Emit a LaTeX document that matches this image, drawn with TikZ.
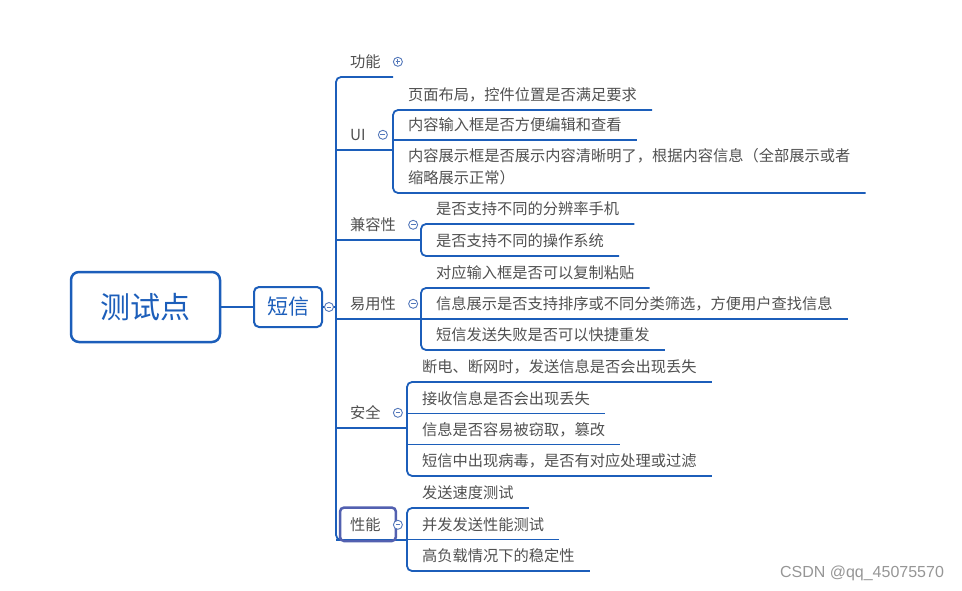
\documentclass[tikz,border=0pt]{standalone}
\usepackage{fontspec}
\usepackage{xcolor}
\usepackage{tikz}
\usetikzlibrary{positioning,calc}
\newfontfamily\cjk{Noto Sans CJK SC}
\newfontfamily\wmfont{Liberation Sans}
\definecolor{mapBlue}{RGB}{28,94,186}
\definecolor{mapText}{RGB}{80,80,80}
\definecolor{togBlue}{RGB}{84,120,186}
\definecolor{selBlue}{RGB}{82,96,176}
\definecolor{wmGray}{RGB}{150,150,150}
\tikzset{
  rootbox/.style={draw=mapBlue,line width=2.5pt,rounded corners=8pt,minimum width=149pt,minimum height=70pt,text=mapBlue,font=\cjk\fontsize{30}{34}\selectfont},
  subbox/.style={draw=mapBlue,line width=2pt,rounded corners=5pt,minimum width=68pt,minimum height=40pt,text=mapBlue,font=\cjk\fontsize{21}{24}\selectfont},
  item/.style={anchor=south west,inner xsep=15pt,inner ysep=6pt,text height=11pt,text depth=3pt,text=mapText,font=\cjk\fontsize{15.25}{22}\selectfont},
  topic/.style={item,inner xsep=14pt},
  link/.style={draw=mapBlue,line width=1.3pt},
  brace/.style={link,line width=1.8pt,rounded corners=5pt},
  selbox/.style={draw=selBlue,line width=2.5pt,rounded corners=4pt},
  tog/.style={circle,draw=togBlue,fill=white,line width=0.9pt,minimum size=9pt,inner sep=0pt,
    path picture={\draw[togBlue,line width=0.9pt] ([xshift=-2.4pt]path picture bounding box.center) -- ([xshift=2.4pt]path picture bounding box.center);}},
  togplus/.style={circle,draw=togBlue,fill=white,line width=0.9pt,minimum size=9pt,inner sep=0pt,
    path picture={\draw[togBlue,line width=0.9pt] ([xshift=-2.4pt]path picture bounding box.center) -- ([xshift=2.4pt]path picture bounding box.center)
      ([yshift=-2.4pt]path picture bounding box.center) -- ([yshift=2.4pt]path picture bounding box.center);}},
  wmark/.style={text=wmGray,font=\wmfont\fontsize{16}{18}\selectfont}
}
\begin{document}
\begin{tikzpicture}[x=1pt,y=-1pt]
  \useasboundingbox (0,0) rectangle (962,591);
  % root and message node
  \node[rootbox] (root) at (145.5,307) {测试点};
  \node[subbox] (dx) at (288,307) {短信};
  % topics
  \node[topic] (gn) at (336,77) {功能};
  \node[topic] (ui) at (336,150) {UI};
  \node[topic] (jr) at (336,240) {兼容性};
  \node[topic] (yy) at (336,319) {易用性};
  \node[topic] (aq) at (336,428) {安全};
  \node[topic] (xn) at (336,540) {性能};
  \coordinate (gn-end) at (393,77);
  % test items
  \node[item] (ui1) at (393,110) {页面布局，控件位置是否满足要求};
  \node[item] (ui2) at (393,140) {内容输入框是否方便编辑和查看};
  \node[item] (ui3) at (393,193) {\begin{tabular}[b]{@{}l@{}}内容展示框是否展示内容清晰明了，根据内容信息（全部展示或者\\缩略展示正常）\end{tabular}};
  \foreach \t [count=\i] in {是否支持不同的分辨率手机,是否支持不同的操作系统}
    \node[item] (jr\i) at (421,{224+32*(\i-1)}) {\t};
  \foreach \t [count=\i] in {对应输入框是否可以复制粘贴,信息展示是否支持排序或不同分类筛选，方便用户查找信息,短信发送失败是否可以快捷重发}
    \node[item] (yy\i) at (421,{288+31*(\i-1)}) {\t};
  \foreach \t [count=\i] in {断电、断网时，发送信息是否会出现丢失,接收信息是否会出现丢失,信息是否容易被窃取，篡改,短信中出现病毒，是否有对应处理或过滤}
    \node[item] (aq\i) at (407,{382+31.3*(\i-1)}) {\t};
  \foreach \t [count=\i] in {发送速度测试,并发发送性能测试,高负载情况下的稳定性}
    \node[item] (xn\i) at (407,{508+31.5*(\i-1)}) {\t};
  % connectors
  \draw[link,line width=2pt] (root.east) -- (dx.west);
  \draw[link] (dx.east) -- (dx.east -| gn.south west);
  \draw[brace] (gn-end) -- (gn.south west) -- (xn.south west) -- (xn.south west -| xn1.south west);
  \foreach \g/\n in {ui/3,jr/2,yy/3,aq/4,xn/3} {
    \draw[link] (\g.south west) -- (\g.south west -| \g1.south west);
    \draw[brace] (\g1.south east) -- (\g1.south west) -- (\g\n.south west) -- (\g\n.south east);
  }
  \foreach \m in {ui2,yy2,aq2,aq3,xn2}
    \draw[link] (\m.south west) -- (\m.south east);
  \draw[selbox] ([xshift=4pt,yshift=-1pt]xn.south west) rectangle ([xshift=1pt,yshift=6pt]xn.north east);
  % toggles
  \node[tog] (dx-t) at ([xshift=6pt]dx.east) {};
  \node[togplus] (gn-t) at ([xshift=3pt,yshift=2pt]gn.east) {};
  \foreach \g in {ui,jr,yy,aq,xn}
    \node[tog] (\g-t) at ([xshift=3pt,yshift=2pt]\g.east) {};
  \node[wmark] (wm) at (862,573) {CSDN @qq\_45075570};
\end{tikzpicture}
\end{document}
